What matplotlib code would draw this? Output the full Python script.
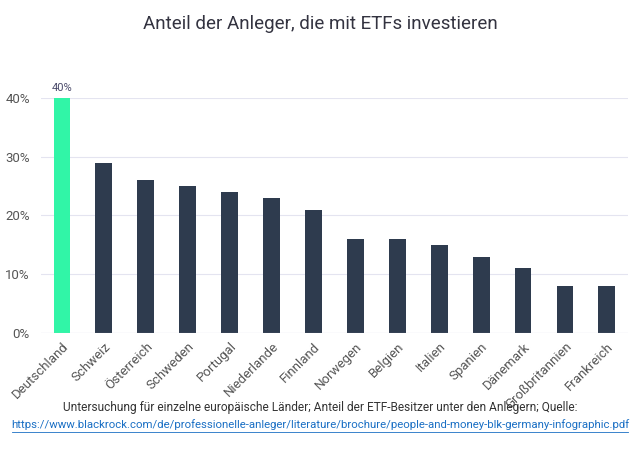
import matplotlib
matplotlib.use("Agg")
import matplotlib.pyplot as plt

laender = ['Deutschland', 'Schweiz', 'Österreich', 'Schweden', 'Portugal', 'Niederlande',
           'Finnland', 'Norwegen', 'Belgien', 'Italien', 'Spanien', 'Dänemark',
           'Großbritannien', 'Frankreich']
anteil = [40, 29, 26, 25, 24, 23, 21, 16, 16, 15, 13, 11, 8, 8]
y_ticks = [0, 10, 20, 30, 40]

plt.rcParams['font.family'] = ['Roboto', 'DejaVu Sans']

fig = plt.figure(figsize=(6.4, 4.58), dpi=100)
ax = fig.add_axes([0.064, 0.273, 0.917, 0.513])

farben = ['#31f5a7'] + ['#2e3b4e'] * (len(laender) - 1)
x = range(len(laender))
ax.bar(x, anteil, width=0.4, color=farben, zorder=3)

ax.set_xlim(-0.5, len(laender) - 0.5)
ax.set_ylim(0, 40)
ax.set_yticks(y_ticks)
ax.set_yticklabels(['%d%%' % v for v in y_ticks])
ax.yaxis.grid(True, color='#e4e4f0', linewidth=0.8, zorder=0)
for s in ax.spines.values():
    s.set_visible(False)
ax.axhline(0, color='#ccccdd', linewidth=0.8, zorder=4)
ax.tick_params(axis='both', length=0, labelsize=9.5, colors='#555555')
ax.tick_params(axis='y', pad=8)
ax.tick_params(axis='x', pad=5)
ax.set_xticks(list(x))
ax.set_xticklabels(laender, rotation=45, ha='right', rotation_mode='anchor')

ax.text(0, anteil[0] + 0.8, '%d%%' % anteil[0], ha='center', va='bottom',
        fontsize=8, color='#4a4a6a', clip_on=False)

fig.text(0.5, 0.948, 'Anteil der Anleger, die mit ETFs investieren', ha='center',
         va='center', fontsize=13.5, color='#333340')
fig.text(0.5, 0.11, 'Untersuchung für einzelne europäische Länder; Anteil der ETF-Besitzer unter den Anlegern; Quelle:',
         ha='center', va='center', fontsize=8.6, color='#333333')
fig.text(0.5, 0.073, 'https://www.blackrock.com/de/professionelle-anleger/literature/brochure/people-and-money-blk-germany-infographic.pdf',
         ha='center', va='center', fontsize=8.2, color='#1a6fc4')
fig.add_artist(plt.Line2D([0.019, 0.981], [0.057, 0.057], color='#1a6fc4', linewidth=0.6))

fig.savefig('out.png', dpi=100)
